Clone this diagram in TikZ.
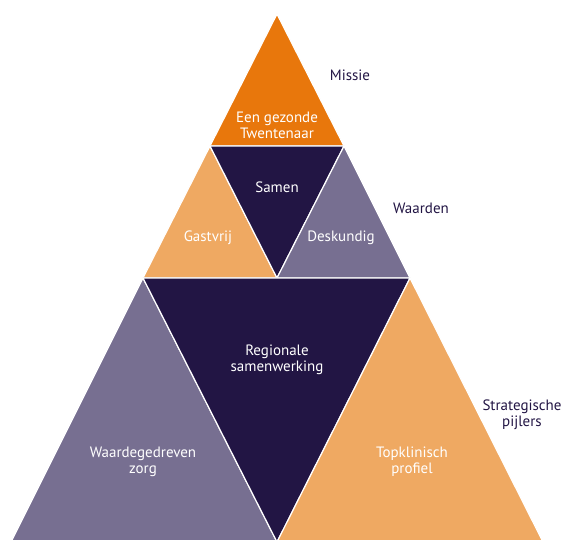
\documentclass[tikz,border=0pt]{standalone}
\usepackage{fontspec}
\setmainfont{PT Sans}
\definecolor{missieoranje}{RGB}{232,119,12}
\definecolor{lichtoranje}{RGB}{239,169,98}
\definecolor{donkerblauw}{RGB}{34,21,68}
\definecolor{grijspaars}{RGB}{119,111,145}
\tikzset{
  vlak/.style={draw=white, line width=1.2pt, line join=round},
  binnen/.style={text=white, align=center, font=\fontsize{15}{16}\selectfont},
  buiten/.style={text=donkerblauw, align=center, font=\fontsize{15}{16}\selectfont}
}
\begin{document}
\begin{tikzpicture}[x=1pt, y=-1pt]
    \useasboundingbox (0,0) rectangle (566,540);
    % hoekpunten
    \coordinate (top) at (277,14);
    \coordinate (l1) at (210,146);
    \coordinate (r1) at (344,146);
    \coordinate (l2) at (143,278);
    \coordinate (m2) at (277,278);
    \coordinate (r2) at (410,278);
    \coordinate (l3) at (11,542);
    \coordinate (m3) at (277,542);
    \coordinate (r3) at (543,542);

    \fill[missieoranje, vlak] (top) -- (l1) -- (r1) -- cycle;
    \fill[lichtoranje, vlak] (l1) -- (l2) -- (m2) -- cycle;
    \fill[donkerblauw, vlak] (l1) -- (r1) -- (m2) -- cycle;
    \fill[grijspaars, vlak] (r1) -- (m2) -- (r2) -- cycle;
    \fill[grijspaars, vlak] (l2) -- (l3) -- (m3) -- cycle;
    \fill[donkerblauw, vlak] (l2) -- (r2) -- (m3) -- cycle;
    \fill[lichtoranje, vlak] (r2) -- (m3) -- (r3) -- cycle;

    \node[binnen] (missie) at (277,125) {Een gezonde\\Twentenaar};
    \node[binnen] (samen) at (277,187) {Samen};
    \node[binnen] (gastvrij) at (208,238) {Gastvrij};
    \node[binnen] (deskundig) at (341,238) {Deskundig};
    \node[binnen] (regionaal) at (277,360) {Regionale\\samenwerking};
    \node[binnen] (waarde) at (143,462) {Waardegedreven\\zorg};
    \node[binnen] (topklinisch) at (412,462) {Topklinisch\\profiel};

    \node[buiten] (lbmissie) at (350,75) {Missie};
    \node[buiten] (lbwaarden) at (421,208) {Waarden};
    \node[buiten] (lbpijlers) at (522,415) {Strategische\\pijlers};
\end{tikzpicture}
\end{document}
